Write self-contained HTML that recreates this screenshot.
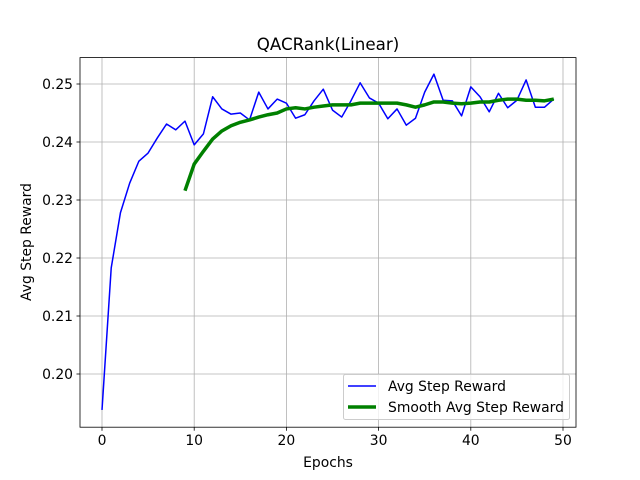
<!DOCTYPE html>
<html><head><meta charset="utf-8"><style>
body{margin:0;background:#fff;}
svg text{font-family:"DejaVu Sans","Liberation Sans",sans-serif;fill:#000;}
</style></head><body>
<svg id="c" style="position:absolute;left:0;top:0" width="640" height="480" xmlns="http://www.w3.org/2000/svg"></svg>
<script>
const raw=[0.1938,0.2183,0.2278,0.2329,0.2367,0.2381,0.2407,0.2431,0.2421,0.2436,0.2395,0.2414,0.2478,0.2457,0.2448,0.2450,0.2438,0.2486,0.2457,0.2474,0.2467,0.2441,0.2447,0.2471,0.2491,0.2455,0.2443,0.2471,0.2502,0.2476,0.2467,0.2440,0.2457,0.2429,0.2441,0.2486,0.2517,0.2472,0.2471,0.2445,0.2495,0.2478,0.2452,0.2484,0.2459,0.2472,0.2507,0.2460,0.2460,0.2474];
const smoothStart=9;
const smooth=[0.2316,0.2362,0.2384,0.2405,0.2419,0.2428,0.2434,0.2438,0.2443,0.2447,0.2450,0.2457,0.2459,0.2457,0.2460,0.2462,0.2464,0.2464,0.2464,0.2467,0.2467,0.2467,0.2467,0.2467,0.2464,0.2460,0.2464,0.2469,0.2469,0.2467,0.2466,0.2467,0.2469,0.2469,0.2472,0.2474,0.2474,0.2472,0.2472,0.2471,0.2474];
const xTicks=[0,10,20,30,40,50];
const yTicks=[0.20,0.21,0.22,0.23,0.24,0.25];
const L=80,R=576,T=57.6,B=427.2;
const X=v=>102+(v)*(563-102)/50;
const Y=v=>374-(v-0.20)*5800;
const svg=document.getElementById('c');
const NS='http://www.w3.org/2000/svg';
function mk(t,a){const e=document.createElementNS(NS,t);for(const k in a)e.setAttribute(k,a[k]);svg.appendChild(e);return e;}
xTicks.forEach(t=>{
 const g=mk('line',{x1:X(t),x2:X(t),y1:T,y2:B,stroke:'#b0b0b0','stroke-width':0.8});
 
 
 mk('line',{x1:X(t),x2:X(t),y1:B,y2:B+3.5,stroke:'#000','stroke-width':0.8});
 const tx=mk('text',{x:X(t),y:B+18,'text-anchor':'middle','font-size':'13.9px'});
 tx.textContent=t;
 
 
});
yTicks.forEach(t=>{
 const g=mk('line',{x1:L,x2:R,y1:Y(t),y2:Y(t),stroke:'#b0b0b0','stroke-width':0.8});
 
 
 mk('line',{x1:L-3.5,x2:L,y1:Y(t),y2:Y(t),stroke:'#000','stroke-width':0.8});
 const tx=mk('text',{x:L-7,y:Y(t)+5,'text-anchor':'end','font-size':'13.9px'});
 tx.textContent=t.toFixed(2);
 
 
});
const p1=mk('polyline',{points:raw.map((v,i)=>X(i)+','+Y(v)).join(' '),fill:'none',stroke:'#0000ff','stroke-width':1.5,'stroke-linejoin':'round'});


const p2=mk('polyline',{points:smooth.map((v,i)=>X(i+smoothStart)+','+Y(v)).join(' '),fill:'none',stroke:'#008000','stroke-width':3.5,'stroke-linejoin':'round'});


const fr=mk('rect',{x:L,y:T,width:R-L,height:B-T,fill:'none',stroke:'#000','stroke-width':0.8});


</script>
<svg style="position:absolute;left:0;top:0" width="640" height="480" xmlns="http://www.w3.org/2000/svg">
<text x="328" y="50" text-anchor="middle" font-size="16.7px">QACRank(Linear)</text>
<text x="328" y="467" text-anchor="middle" font-size="13.9px">Epochs</text>
<text transform="translate(31,242) rotate(-90)" text-anchor="middle" font-size="13.9px">Avg Step Reward</text>
<g>
<rect x="343.5" y="374.5" width="226" height="45" rx="2" fill="#fff" fill-opacity="0.8" stroke="#ccc"/>
<line x1="348" x2="376" y1="386" y2="386" stroke="#0000ff" stroke-width="1.5"/>
<text x="388" y="391" font-size="13.9px">Avg Step Reward</text>
<line x1="348" x2="376" y1="407" y2="407" stroke="#008000" stroke-width="3.5"/>
<text x="388" y="412" font-size="13.9px">Smooth Avg Step Reward</text>
</g>
</svg>
</body></html>
